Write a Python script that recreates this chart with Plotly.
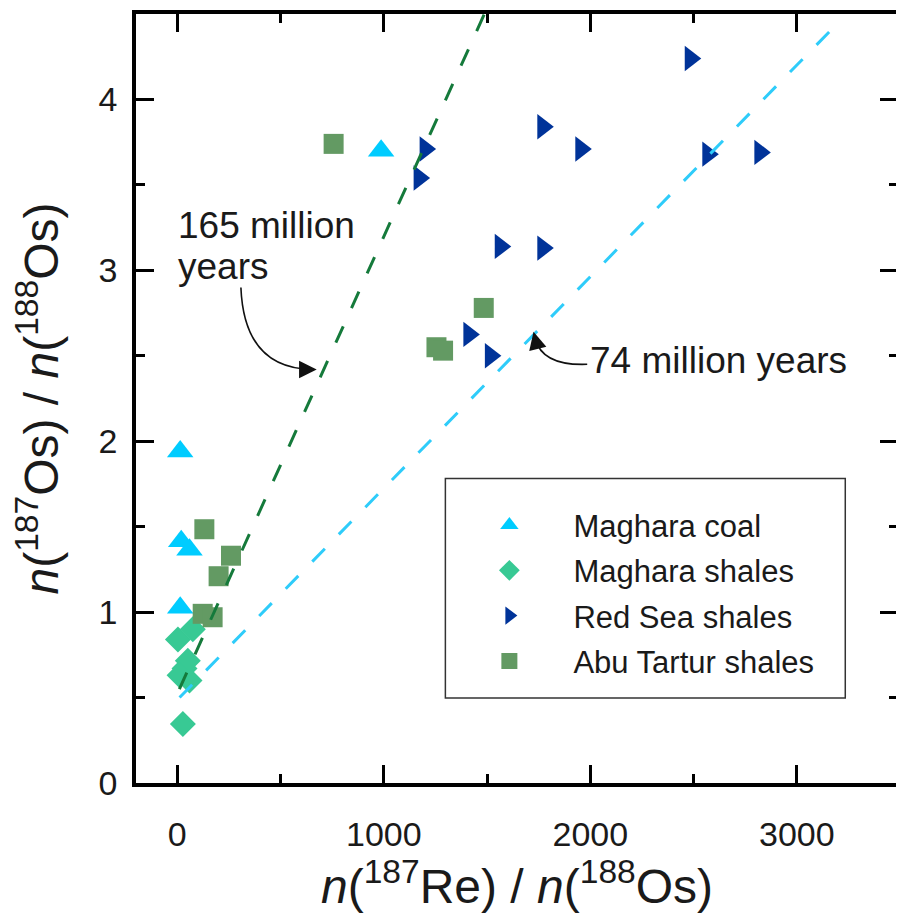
import plotly.graph_objects as go

# ---------------- data ----------------
coal_x = [14, 19, 59, 14, 987]
coal_y = [1.94, 1.415, 1.365, 1.025, 3.70]

mshale_x = [3, 75, 51, 35, 11, 59, 27]
mshale_y = [0.84, 0.90, 0.715, 0.67, 0.63, 0.60, 0.345]

redsea_x = [1200, 1171, 1770, 1954, 1564, 1770, 1412, 1516, 2484, 2569, 2821]
redsea_y = [3.71, 3.54, 3.84, 3.71, 3.14, 3.13, 2.625, 2.50, 4.24, 3.68, 3.69]

abu_x = [757, 1484, 1255, 1287, 131, 260, 200, 123, 171]
abu_y = [3.74, 2.78, 2.55, 2.53, 1.485, 1.33, 1.21, 0.99, 0.97]

# isochron end points
iso165_x = [10, 1487]
iso165_y = [0.55, 4.5]
iso74_x = [11, 3185]
iso74_y = [0.50, 4.43]

x_ticks = [0, 1000, 2000, 3000]
y_ticks = [0, 1, 2, 3, 4]

FONT = "Liberation Sans, Arial, sans-serif"
TXT = "#1a1a1a"

fig = go.Figure()

series = [
    ("Maghara coal", coal_x, coal_y, "triangle-up", "#00CCFF", 23),
    ("Maghara shales", mshale_x, mshale_y, "diamond", "#38C994", 20),
    ("Red Sea shales", redsea_x, redsea_y, "triangle-right", "#003399", 22),
    ("Abu Tartur shales", abu_x, abu_y, "square", "#639A63", 20),
]
for i, (name, xs, ys, sym, col, sz) in enumerate(series):
    fig.add_trace(go.Scatter(
        x=xs, y=ys, mode="markers", name=name, legendgroup=f"g{i}",
        marker=dict(symbol=sym, color=col, size=sz, line=dict(width=0)),
    ))

fig.add_trace(go.Scatter(x=iso165_x, y=iso165_y, mode="lines", showlegend=False,
                         line=dict(color="#157A3B", width=3, dash="18px,20px")))
fig.add_trace(go.Scatter(x=iso74_x, y=iso74_y, mode="lines", showlegend=False,
                         line=dict(color="#2ECCFA", width=3, dash="18px,20px")))

# curved annotation arrows
fig.add_shape(type="path", xref="x", yref="y",
              path="M 308,2.90 Q 324,2.42 662,2.42",
              line=dict(color="#111111", width=1.6))
fig.add_shape(type="path", xref="x", yref="y",
              path="M 1985,2.45 Q 1768,2.44 1733,2.60",
              line=dict(color="#111111", width=1.6))

fig.add_annotation(x=675, y=2.42, ax=-16, ay=0, text="", showarrow=True,
                   arrowhead=2, arrowsize=2.2, arrowwidth=1.6, arrowcolor="#111111",
                   standoff=0)
fig.add_annotation(x=1725, y=2.64, ax=4, ay=16, text="", showarrow=True,
                   arrowhead=2, arrowsize=2.2, arrowwidth=1.6, arrowcolor="#111111",
                   standoff=0)

fig.add_annotation(x=-8, y=3.265, xref="x", yref="y", text="165 million",
                   showarrow=False, xanchor="left", yanchor="middle", align="left",
                   font=dict(family=FONT, size=37, color=TXT))
fig.add_annotation(x=-8, y=3.025, xref="x", yref="y", text="years",
                   showarrow=False, xanchor="left", yanchor="middle", align="left",
                   font=dict(family=FONT, size=37, color=TXT))
fig.add_annotation(x=1990, y=2.475, xref="x", yref="y", text="74 million years",
                   showarrow=False, xanchor="left", yanchor="middle",
                   font=dict(family=FONT, size=37, color=TXT))

# legend box
fig.add_shape(type="rect", xref="paper", yref="paper",
              x0=(447 - 136) / 766, x1=(849 - 136) / 766,
              y0=(783 - 698) / 770, y1=(783 - 478) / 770,
              line=dict(color="#333333", width=1.5), fillcolor="rgba(0,0,0,0)")

axis_common = dict(
    showline=True, linewidth=3.5, linecolor="black", mirror="ticks",
    ticks="inside", ticklen=18, tickwidth=3, tickcolor="black",
    showgrid=False, zeroline=False,
    tickfont=dict(family=FONT, size=34, color=TXT),
)

fig.update_xaxes(
    range=[-200, 3490], tickvals=x_ticks, ticktext=[str(v) for v in x_ticks],
    minor=dict(dtick=500, tick0=0, ticks="inside", ticklen=9, tickwidth=3, tickcolor="black"),
    title=dict(text="<i>n</i>(<sup>187</sup>Re) / <i>n</i>(<sup>188</sup>Os)",
               font=dict(family=FONT, size=48, color=TXT), standoff=16),
    ticklabelstandoff=18,
    **axis_common,
)
fig.update_yaxes(
    range=[0, 4.5], tickvals=y_ticks, ticktext=[str(v) for v in y_ticks],
    minor=dict(dtick=0.5, tick0=0, ticks="inside", ticklen=9, tickwidth=3, tickcolor="black"),
    title=dict(text="<i>n</i>(<sup>187</sup>Os) / <i>n</i>(<sup>188</sup>Os)",
               font=dict(family=FONT, size=48, color=TXT), standoff=30),
    ticklabelstandoff=8,
    **axis_common,
)

# the page body has an 8px default margin; compensate so the plot area
# sits at the same pixels as the reference
fig.update_layout(
    width=896, height=907,
    margin=dict(l=128, r=2, t=5, b=132),
    plot_bgcolor="white", paper_bgcolor="white",
    showlegend=True,
    legend=dict(
        x=(447 - 136) / 766, y=(783 - 498) / 770, xanchor="left", yanchor="top",
        bgcolor="rgba(0,0,0,0)", borderwidth=0,
        font=dict(family=FONT, size=31, color=TXT),
        itemwidth=118, tracegroupgap=2, itemsizing="trace",
    ),
)

fig.write_html("out.html")
